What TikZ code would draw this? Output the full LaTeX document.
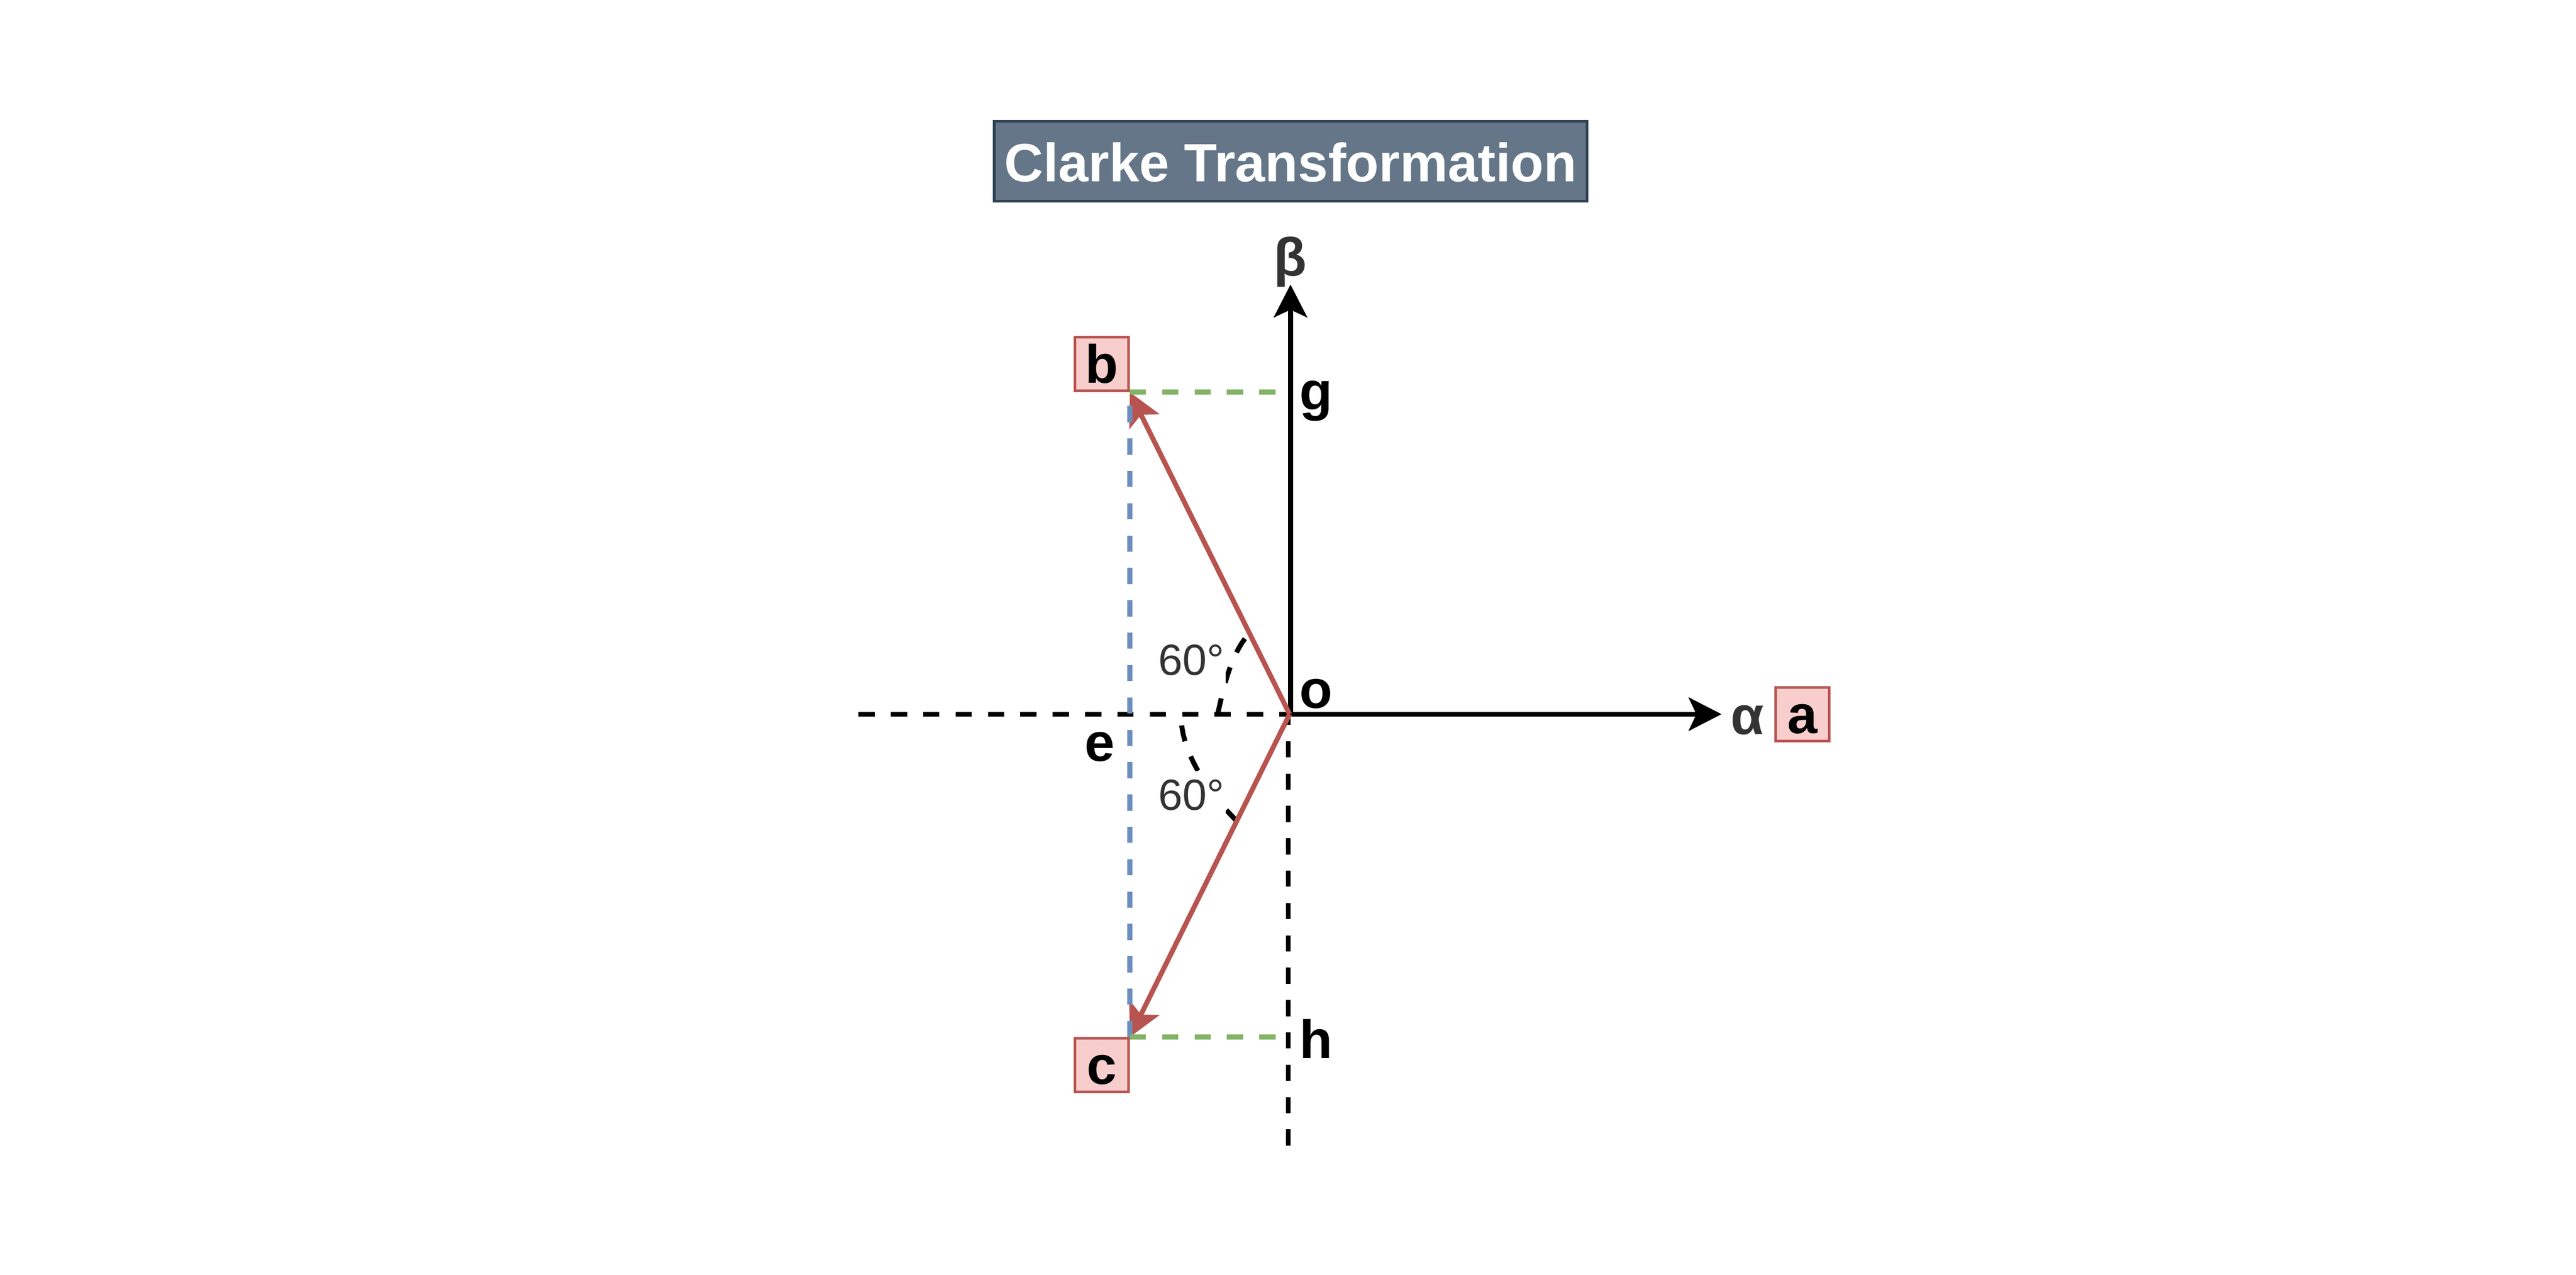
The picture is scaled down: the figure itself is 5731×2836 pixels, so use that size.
\documentclass[tikz,border=0pt]{standalone}
\usepackage{fontspec}
\setmainfont{Liberation Sans}
\usetikzlibrary{arrows.meta}
\definecolor{titlefill}{HTML}{647687}
\definecolor{titlestroke}{HTML}{314354}
\definecolor{boxfill}{HTML}{F8CECC}
\definecolor{boxstroke}{HTML}{B85450}
\definecolor{redline}{HTML}{B85450}
\definecolor{greenline}{HTML}{82B366}
\definecolor{blueline}{HTML}{6C8EBF}
\definecolor{darktext}{HTML}{333333}
\tikzset{
  axisline/.style={line width=1.1pt, draw=black},
  blackdash/.style={line width=1.1pt, draw=black, dash pattern=on 3.6pt off 3.6pt},
  greendash/.style={line width=1.1pt, draw=greenline, dash pattern=on 3.6pt off 3.6pt},
  bluedash/.style={line width=1.1pt, draw=blueline, dash pattern=on 3.6pt off 3.6pt},
  vecline/.style={line width=1.1pt, draw=redline},
  headtip/.style={-{Stealth[length=7.3pt,width=7.4pt,inset=1.7pt]}},
  letterbox/.style={draw=boxstroke, fill=boxfill, line width=0.6pt,
    minimum size=11.9pt, inner sep=0pt,
    font=\fontsize{12pt}{14pt}\selectfont\bfseries,
    text height=9.5pt, text depth=1.04pt},
  lbl/.style={inner sep=0pt, font=\fontsize{12pt}{14pt}\selectfont\bfseries,
    text height=9.5pt, text depth=1.04pt},
  anglelbl/.style={inner ysep=0pt, inner xsep=0.3pt, fill=white, text=darktext,
    font=\fontsize{9.7pt}{11.6pt}\selectfont,
    text height=8.7pt, text depth=1.98pt},
  titlebox/.style={draw=titlestroke, fill=titlefill, line width=0.6pt,
    minimum width=131.9pt, minimum height=17.8pt, inner sep=0pt, text=white,
    font=\fontsize{12pt}{14pt}\selectfont\bfseries,
    text height=9.5pt, text depth=0.5pt}
}
\begin{document}
\begin{tikzpicture}[x=0.1pt, y=-0.1pt]
\useasboundingbox (0,0) rectangle (5731,2836);

% title
\node[titlebox] (title) at (2871.5,359) {Clarke Transformation};

% key points
\coordinate (O) at (2871,1589);
\coordinate (Ored) at (2869,1589);
\coordinate (leftend) at (1910,1589);
\coordinate (dashtop) at (2866,1577);
\coordinate (dashbottom) at (2866,2549);
\coordinate (betatip) at (2871,633);
\coordinate (alphastart) at (2866,1589);
\coordinate (alphatip) at (3830,1589);

% boxes
\node[letterbox] (b) at (2451,810) {b};
\node[letterbox] (c) at (2451,2370) {c};
\node[letterbox] (a) at (4010,1589) {a};

% dashed reference lines
\draw[blackdash] (leftend) -- (Ored);
\draw[blackdash] (dashtop) -- (dashbottom);

% angle arcs
\draw[blackdash] (2709,1589) .. controls (2722,1530) and (2737,1460) .. (2775,1414);
\draw[blackdash] (2629,1614) .. controls (2638,1690) and (2697,1774) .. (2756,1831);

% axes
\draw[axisline, headtip] (O) -- (betatip);
\draw[axisline, headtip] (alphastart) -- (alphatip);

% phase vectors
\draw[vecline, headtip] (Ored) -- (b.south east);
\draw[vecline, headtip] (Ored) -- (c.north east);

% projections
\draw[bluedash] (c.north east) -- (b.south east);
\draw[greendash] (b.south east) -- (b.south east -| O);
\draw[greendash] (c.north east) -- (c.north east -| O);

% redraw boxes on top
\node[letterbox] at (b) {b};
\node[letterbox] at (c) {c};

% labels
\node[lbl, text=darktext] (beta) at (2870,571) {β};
\node[lbl, text=darktext] (alpha) at (3887,1591) {α};
\node[lbl] (o) at (2928,1533) {o};
\node[lbl] (g) at (2928,870) {g};
\node[lbl] (h) at (2928,2312) {h};
\node[lbl] (e) at (2447,1651) {e};
\node[anglelbl] (ang1) at (2650,1469) {60°};
\node[anglelbl] (ang2) at (2650,1769) {60°};
\end{tikzpicture}
\end{document}
